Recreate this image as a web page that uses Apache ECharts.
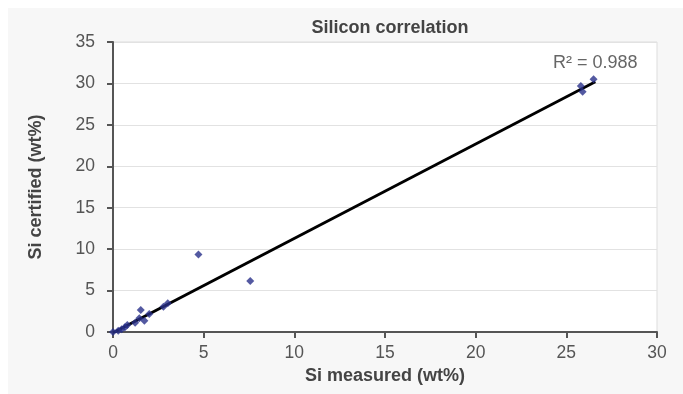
<!DOCTYPE html>
<html>
<head>
<meta charset="utf-8">
<script src="https://cdn.jsdelivr.net/npm/echarts@6/dist/echarts.min.js"></script>
<style>
  html, body { margin: 0; padding: 0; background: #fff; }
  #panel { position: absolute; left: 8px; top: 8px; width: 675px; height: 386px; background: #f7f7f7; }
  #chart { position: absolute; left: 0; top: 0; width: 683px; height: 394px; }
</style>
</head>
<body>
<div id="panel"></div>
<div id="chart"></div>
<script>
// measured vs certified Si (wt%)
const siMeasured = [0.0, 0.29, 0.48, 0.66, 0.79, 1.22, 1.45, 1.53, 1.73, 2.0, 2.78, 3.02, 4.71, 7.57, 25.8, 25.9, 26.5]
const siCertified = [0.0, 0.16, 0.32, 0.56, 0.84, 1.13, 1.65, 2.65, 1.37, 2.17, 3.06, 3.46, 9.35, 6.15, 29.7, 29.0, 30.5]
// linear trend line end points
const trendX = [0, 26.6]
const trendY = [-0.1, 30.2]
const rSquared = '0.988'

const font = '"Liberation Sans", Arial, sans-serif'
const chart = echarts.init(document.getElementById('chart'))

chart.setOption({
  animation: false,
  backgroundColor: 'transparent',
  title: {
    text: 'Silicon correlation',
    left: 385,
    textAlign: 'center',
    top: 14,
    textStyle: { fontFamily: font, fontSize: 18, fontWeight: 'bold', color: '#444' },
  },
  grid: {
    left: 113, right: 26, top: 42, bottom: 62,
    show: true, backgroundColor: '#fff', borderColor: '#ddd', borderWidth: 1,
  },
  xAxis: {
    type: 'value',
    min: 0, max: 30, interval: 5,
    name: 'Si measured (wt%)',
    nameLocation: 'middle',
    nameGap: 35,
    nameTextStyle: { fontFamily: font, fontSize: 18, fontWeight: 'bold', color: '#444' },
    axisLine: { show: true, lineStyle: { color: '#555', width: 2 } },
    axisTick: { show: true, length: 6, lineStyle: { color: '#555', width: 2 } },
    axisLabel: { fontFamily: font, fontSize: 17.5, color: '#555', margin: 12 },
    splitLine: { show: false },
  },
  yAxis: {
    type: 'value',
    min: 0, max: 35, interval: 5,
    name: 'Si certified (wt%)',
    nameLocation: 'middle',
    nameGap: 68,
    nameTextStyle: { fontFamily: font, fontSize: 18, fontWeight: 'bold', color: '#444' },
    axisLine: { show: true, lineStyle: { color: '#555', width: 2 } },
    axisTick: { show: true, length: 6, lineStyle: { color: '#555', width: 2 } },
    axisLabel: { fontFamily: font, fontSize: 17.5, color: '#555', margin: 18 },
    splitLine: { show: true, lineStyle: { color: '#e2e2e2', width: 1 } },
  },
  graphic: [{
    type: 'text',
    left: 553,
    top: 54,
    style: { text: 'R² = ' + rSquared, font: '18px ' + font, fill: '#666' },
  }],
  series: [
    {
      type: 'line',
      data: trendX.map((x, i) => [x, trendY[i]]),
      symbol: 'none',
      lineStyle: { color: '#000', width: 2.8 },
      z: 2,
    },
    {
      type: 'scatter',
      data: siMeasured.map((x, i) => [x, siCertified[i]]),
      symbol: 'diamond',
      symbolSize: 8,
      itemStyle: { color: '#28308a' },
      z: 3,
    },
  ],
})
</script>
</body>
</html>
